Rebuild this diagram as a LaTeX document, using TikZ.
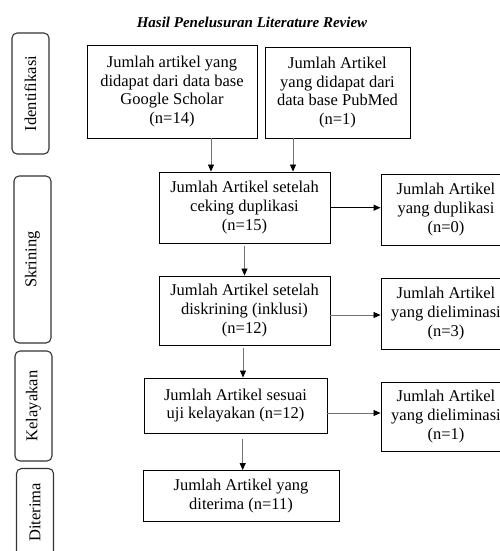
\documentclass[tikz,border=0pt]{standalone}
\usepackage{fontspec}
\setmainfont{Liberation Serif}
\usetikzlibrary{arrows.meta}
\begin{document}
\begin{tikzpicture}[x=1pt,y=-1pt,
  box/.style={draw=black, line width=0.9pt, align=center, inner sep=0pt,
    font=\fontsize{16.5}{18.7}\selectfont},
  side/.style={draw=black!80, line width=1.1pt, rounded corners=5pt, inner sep=0pt,
    rotate=90, minimum height=37pt, font=\fontsize{16.5}{18.7}\selectfont},
  arr/.style={draw=black!55, line width=0.8pt, -{Triangle[length=7pt,width=6pt,color=black]}},
  arrk/.style={draw=black, line width=0.9pt, -{Triangle[length=7pt,width=6pt,color=black]}}
]
\useasboundingbox (0,0) rectangle (500,551);
\clip (0,0) rectangle (500,551);

\node (title) at (252,22) {\fontsize{15}{16}\selectfont\bfseries\itshape Hasil Penelusuran Literature Review};

% side labels
\node[side, minimum width=121pt] (s1) at (30.5,93.5) {Identifikasi};
\node[side, minimum width=167pt] (s2) at (32.5,259.5) {Skrining};
\node[side, minimum width=110pt] (s3) at (33.5,406) {Kelayakan};
\node[side, minimum width=88pt] (s4) at (35,512.5) {Diterima};

% main boxes
\node[box, minimum width=170pt, minimum height=93pt] (gs) at (172,91.5)
  {Jumlah artikel yang\\didapat dari data base\\Google Scholar\\(n=14)};
\node[box, minimum width=145pt, minimum height=91pt] (pm) at (337.5,92.5)
  {Jumlah Artikel\\yang didapat dari\\data base PubMed\\(n=1)};
\node[box, minimum width=171pt, minimum height=71pt] (ck) at (244.5,207.5)
  {Jumlah Artikel setelah\\ceking duplikasi\\(n=15)};
\node[box, minimum width=130pt, minimum height=71pt] (dup) at (446,209.5)
  {Jumlah Artikel\\yang duplikasi\\(n=0)};
\node[box, minimum width=171pt, minimum height=69pt] (dis) at (244.5,310.5)
  {Jumlah Artikel setelah\\diskrining (inklusi)\\(n=12)};
\node[box, minimum width=130pt, minimum height=71pt] (el1) at (446,313.5)
  {Jumlah Artikel\\yang dieliminasi\\(n=3)};
\node[box, minimum width=183pt, minimum height=55pt] (kel) at (235.5,405.5)
  {Jumlah Artikel sesuai\\uji kelayakan (n=12)};
\node[box, minimum width=130pt, minimum height=69pt] (el2) at (446,416.5)
  {Jumlah Artikel\\yang dieliminasi\\(n=1)};
\node[box, minimum width=196pt, minimum height=51pt] (ter) at (241,496)
  {Jumlah Artikel yang\\diterima (n=11)};

% helper coordinates
\coordinate (c1) at (211,0);
\coordinate (c2) at (293,0);
\coordinate (c3) at (243,0);
\coordinate (c4) at (242.7,0);
\coordinate (r1) at (0,207.7);
\coordinate (r2) at (0,315);
\coordinate (r3) at (0,413);

% connectors
\draw[arr] (gs.south -| c1) -- (ck.north -| c1);
\draw[arr] (pm.south -| c2) -- (ck.north -| c2);
\draw[arrk] (ck.east |- r1) -- (dup.west |- r1);
\draw[arr, shorten <=3pt] (ck.south) -- (dis.north);
\draw[arr] (dis.east |- r2) -- (el1.west |- r2);
\draw[arr, shorten <=3pt] (dis.south -| c3) -- (kel.north -| c3);
\draw[arr] (kel.east |- r3) -- (el2.west |- r3);
\draw[arr, shorten <=6pt] (kel.south -| c4) -- (ter.north -| c4);
\end{tikzpicture}
\end{document}
